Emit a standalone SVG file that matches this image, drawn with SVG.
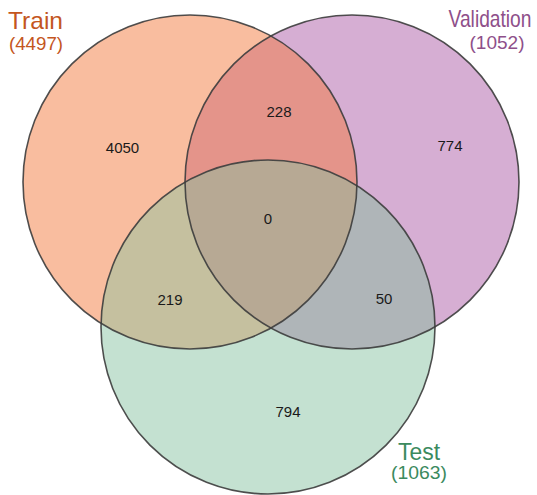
<svg xmlns="http://www.w3.org/2000/svg" width="537" height="495" viewBox="0 0 537 495">
<style>
.num{font-family:"Liberation Sans",Arial,sans-serif;font-size:15px;fill:#1a1a1a;text-anchor:middle}
.lbl{font-family:"Liberation Sans",Arial,sans-serif;text-anchor:middle}
.ring{fill:none;stroke:#3c3c3c;stroke-width:1.6;stroke-opacity:0.9}
</style>
<defs>
<clipPath id="cT"><circle cx="190" cy="182" r="167"/></clipPath>
<clipPath id="cV"><circle cx="352" cy="182" r="167"/></clipPath>
</defs>
<rect width="537" height="495" fill="#ffffff"/>
<g id="train">
<circle cx="190" cy="182" r="167" fill="#f9bd9f"/>
</g>
<g id="validation">
<circle cx="352" cy="182" r="167" fill="#d6aed3"/>
</g>
<g id="test">
<circle cx="268" cy="327" r="167" fill="#c4e1d1"/>
</g>
<g id="overlaps">
<circle cx="352" cy="182" r="167" fill="#e4948a" clip-path="url(#cT)"/>
<circle cx="268" cy="327" r="167" fill="#c5c09f" clip-path="url(#cT)"/>
<circle cx="268" cy="327" r="167" fill="#afb5b8" clip-path="url(#cV)"/>
<g clip-path="url(#cT)"><circle cx="268" cy="327" r="167" fill="#b7a994" clip-path="url(#cV)"/></g>
</g>
<g id="outlines">
<circle class="ring" cx="190" cy="182" r="167"/>
<circle class="ring" cx="352" cy="182" r="167"/>
<circle class="ring" cx="268" cy="327" r="167"/>
</g>
<g id="counts">
<text class="num" x="122.5" y="153">4050</text>
<text class="num" x="279" y="117">228</text>
<text class="num" x="450" y="151">774</text>
<text class="num" x="268" y="224">0</text>
<text class="num" x="170" y="305">219</text>
<text class="num" x="384" y="304">50</text>
<text class="num" x="288" y="417">794</text>
</g>
<g id="label-train" fill="#c4561e">
<text class="lbl" x="35.5" y="29" font-size="24" textLength="55" lengthAdjust="spacingAndGlyphs">Train</text>
<text class="lbl" x="36" y="50" font-size="18" textLength="54" lengthAdjust="spacingAndGlyphs">(4497)</text>
</g>
<g id="label-validation" fill="#8e4f8a">
<text class="lbl" transform="translate(490,27) scale(0.8,1)" x="0" y="0" font-size="24">Validation</text>
<text class="lbl" x="497" y="49" font-size="18" textLength="55" lengthAdjust="spacingAndGlyphs">(1052)</text>
</g>
<g id="label-test" fill="#3b8a5e">
<text class="lbl" x="419" y="460" font-size="23" textLength="42" lengthAdjust="spacingAndGlyphs">Test</text>
<text class="lbl" x="419" y="479" font-size="17.5" textLength="56" lengthAdjust="spacingAndGlyphs">(1063)</text>
</g>
</svg>
